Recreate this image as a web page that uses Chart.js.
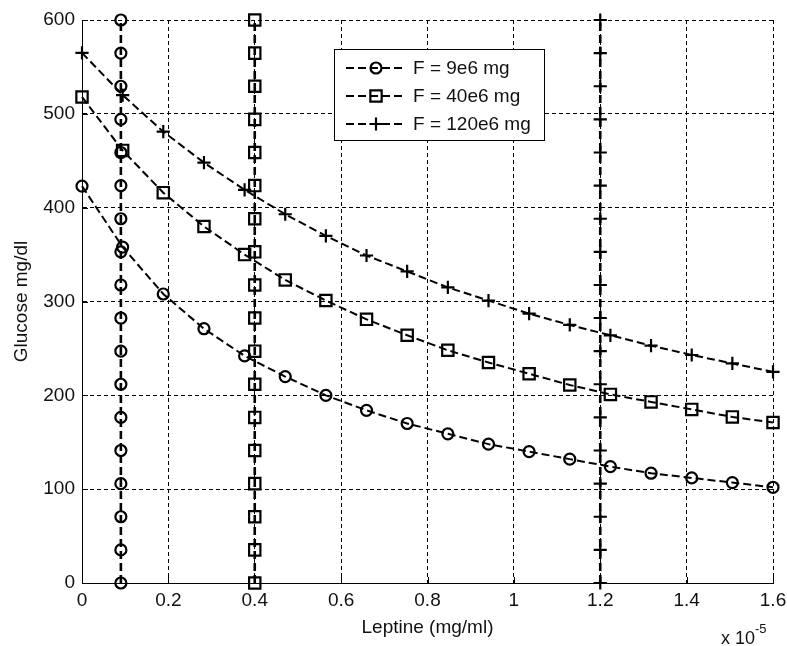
<!DOCTYPE html>
<html>
<head>
<meta charset="utf-8">
<script src="https://cdn.jsdelivr.net/npm/chart.js@4.4.1/dist/chart.umd.min.js"></script>
<style>
  html, body { margin: 0; padding: 0; background: #ffffff; }
  #wrap { width: 787px; height: 646px; position: relative; }
  canvas { display: block; }
</style>
</head>
<body>
<div id="wrap"><canvas id="c" width="787" height="646"></canvas></div>
<script>
// ---- data ----
const seriesNames = ['F = 9e6 mg', 'F = 40e6 mg', 'F = 120e6 mg'];
const leptineX = [0, 0.0941, 0.1882, 0.2824, 0.3765, 0.4706, 0.5647, 0.6588, 0.7529,
                  0.8471, 0.9412, 1.0353, 1.1294, 1.2235, 1.3176, 1.4118, 1.5059, 1.6];
const glucoseF9   = [423, 358, 308, 271, 242, 220, 200, 184, 170, 159, 148, 140, 132, 124, 117, 112, 107, 102];
const glucoseF40  = [518, 461, 416, 380, 350, 323, 301, 281, 264, 248, 235, 223, 211, 201, 193, 185, 177, 171];
const glucoseF120 = [565, 520, 481, 448, 419, 393, 370, 349, 332, 315, 301, 287, 275, 264, 253, 243, 234, 225];
const markerLineX = [0.09, 0.4, 1.2];
const markerLineY = [0, 35.3, 70.6, 105.9, 141.2, 176.5, 211.8, 247.1, 282.4, 317.6,
                     352.9, 388.2, 423.5, 458.8, 494.1, 529.4, 564.7, 600];
const xTickLabels = ['0', '0.2', '0.4', '0.6', '0.8', '1', '1.2', '1.4', '1.6'];
const yTickLabels = ['0', '100', '200', '300', '400', '500', '600'];
const xTitle = 'Leptine (mg/ml)';
const yTitle = 'Glucose mg/dl';
const xExponentBase = 'x 10';
const xExponentPower = '-5';

// ---- styles ----
const FONT = '"Liberation Sans", Arial, sans-serif';
const TEXT = '#111111';
const curveVals = [glucoseF9, glucoseF40, glucoseF120];
const markerStyles = [
  { pointStyle: 'circle', radius: 5.5 },
  { pointStyle: 'rect', radius: 8.0 },
  { pointStyle: 'cross', radius: 6.6 }
];
const LINE_DASH = [8, 4];

function makeDataset(label, points, st, isVertical) {
  return {
    label: label,
    data: points,
    showLine: true,
    borderColor: '#000000',
    borderWidth: isVertical ? 2.6 : 2,
    borderDash: LINE_DASH,
    tension: 0,
    pointStyle: st.pointStyle,
    pointRadius: st.radius,
    pointHoverRadius: st.radius,
    pointBorderColor: '#000000',
    pointBackgroundColor: 'rgba(0,0,0,0)',
    pointBorderWidth: 2.2,
    clip: false,
    inLegend: !isVertical
  };
}

const datasets = [];
curveVals.forEach((vals, k) => {
  datasets.push(makeDataset(seriesNames[k], leptineX.map((x, i) => ({ x: x, y: vals[i] })), markerStyles[k], false));
});
markerLineX.forEach((xv, k) => {
  datasets.push(makeDataset('_v' + k, markerLineY.map(y => ({ x: xv, y: y })), markerStyles[k], true));
});

// inward tick marks (MATLAB style)
const inwardTicks = {
  id: 'inwardTicks',
  afterDraw(chart) {
    const ctx = chart.ctx, a = chart.chartArea;
    ctx.save();
    ctx.strokeStyle = '#000';
    ctx.lineWidth = 1;
    ctx.beginPath();
    chart.scales.x.ticks.forEach(t => {
      const px = Math.round(chart.scales.x.getPixelForValue(t.value)) + 0.5;
      ctx.moveTo(px, a.bottom); ctx.lineTo(px, a.bottom - 6);
    });
    chart.scales.y.ticks.forEach(t => {
      const py = Math.round(chart.scales.y.getPixelForValue(t.value)) + 0.5;
      ctx.moveTo(a.left, py); ctx.lineTo(a.left + 6, py);
    });
    ctx.stroke();
    ctx.restore();
  }
};

// legend box drawn inside the axes
const boxLegend = {
  id: 'boxLegend',
  afterDatasetsDraw(chart) {
    const ctx = chart.ctx;
    const bx = 334.5, by = 49.5, bw = 210, bh = 91;
    ctx.save();
    ctx.fillStyle = '#ffffff';
    ctx.fillRect(bx, by, bw, bh);
    ctx.strokeStyle = '#000';
    ctx.lineWidth = 1;
    ctx.strokeRect(bx, by, bw, bh);
    const rows = [68, 96, 124];
    chart.data.datasets.forEach((ds, k) => {
      if (!ds.inLegend) return;
      const y = rows[k];
      ctx.save();
      ctx.strokeStyle = '#000';
      ctx.lineWidth = 2;
      ctx.setLineDash(LINE_DASH);
      ctx.beginPath();
      ctx.moveTo(346, y); ctx.lineTo(404, y);
      ctx.stroke();
      ctx.restore();
      ctx.save();
      ctx.strokeStyle = '#000';
      ctx.fillStyle = 'rgba(0,0,0,0)';
      ctx.lineWidth = 2.2;
      Chart.helpers.drawPoint(ctx, {
        pointStyle: ds.pointStyle, radius: ds.pointRadius, rotation: 0, borderWidth: 2.2
      }, 376, y);
      ctx.restore();
      ctx.fillStyle = TEXT;
      ctx.font = '19px ' + FONT;
      ctx.textBaseline = 'middle';
      ctx.textAlign = 'left';
      ctx.fillText(ds.label, 413, y + 1);
    });
    ctx.restore();
  },
  afterDraw(chart) {
    const ctx = chart.ctx;
    ctx.save();
    ctx.fillStyle = TEXT;
    ctx.textAlign = 'left';
    ctx.textBaseline = 'alphabetic';
    ctx.font = '18px ' + FONT;
    ctx.fillText(xExponentBase, 721, 644);
    ctx.font = '13px ' + FONT;
    ctx.fillText(xExponentPower, 755, 633);
    ctx.restore();
  }
};

new Chart(document.getElementById('c'), {
  type: 'scatter',
  data: { datasets: datasets },
  options: {
    responsive: false,
    animation: false,
    devicePixelRatio: 1,
    layout: { padding: { left: 0, right: 14, top: 20, bottom: 0 } },
    plugins: {
      legend: { display: false },
      tooltip: { enabled: false },
      title: { display: false }
    },
    scales: {
      x: {
        type: 'linear', position: 'bottom', min: 0, max: 1.6,
        ticks: {
          stepSize: 0.2, autoSkip: false, maxRotation: 0, padding: 6,
          color: TEXT, font: { family: FONT, size: 19 },
          callback: (v, i) => xTickLabels[i]
        },
        grid: { color: '#000', lineWidth: 1, drawTicks: false },
        border: { display: true, color: '#000', width: 1, dash: [4, 3] },
        title: { display: true, text: xTitle, color: TEXT, font: { family: FONT, size: 19 }, padding: { top: 0, bottom: 7 } },
        afterFit: s => { s.height = 63; s.paddingLeft = 0; s.paddingRight = 0; }
      },
      y: {
        type: 'linear', position: 'left', min: 0, max: 600,
        ticks: {
          stepSize: 100, autoSkip: false, padding: 7,
          color: TEXT, font: { family: FONT, size: 19 },
          callback: (v, i) => yTickLabels[i]
        },
        grid: { color: '#000', lineWidth: 1, drawTicks: false },
        border: { display: true, color: '#000', width: 1, dash: [4, 3] },
        title: { display: true, text: yTitle, color: TEXT, font: { family: FONT, size: 19 }, padding: { top: 10, bottom: 0 } },
        afterFit: s => { s.width = 82; s.paddingTop = 0; s.paddingBottom = 0; }
      }
    }
  },
  plugins: [inwardTicks, boxLegend]
});
</script>
</body>
</html>
